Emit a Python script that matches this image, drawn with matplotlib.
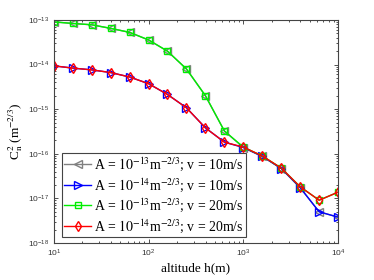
import matplotlib
matplotlib.use("Agg")
import matplotlib.pyplot as plt
import numpy as np
from matplotlib.ticker import LogLocator, NullFormatter

plt.rcParams["font.family"] = ["Liberation Sans", "DejaVu Sans"]
plt.rcParams["mathtext.fontset"] = "stix"

# altitude samples (m)
altitude = [10, 15.8, 25.1, 39.8, 63.1, 100, 158, 251, 398, 631,
            1000, 1585, 2512, 3981, 6310, 10000]

# log10 of Cn^2
log_a13_v20 = [-13.045, -13.08, -13.11, -13.19, -13.28, -13.45, -13.70, -14.10,
               -14.70, -15.49, -15.85, -16.05, -16.32, -16.74, -17.04, -16.86]
log_a14_v20 = [-14.03, -14.08, -14.12, -14.18, -14.28, -14.43, -14.67, -14.97,
               -15.42, -15.74, -15.85, -16.05, -16.32, -16.74, -17.04, -16.86]
log_a14_v10 = [-14.03, -14.08, -14.12, -14.18, -14.28, -14.43, -14.67, -14.97,
               -15.42, -15.74, -15.86, -16.06, -16.33, -16.76, -17.30, -17.42]
log_a13_v10 = [-13.045, -13.08, -13.11, -13.19, -13.28, -13.45, -13.70, -14.10,
               -14.70, -15.49, -15.86, -16.06, -16.33, -16.76, -17.30, -17.42]

labels = [
    r"A = $10^{-13}$m$^{-2/3}$; v = 10m/s",
    r"A = $10^{-14}$m$^{-2/3}$; v = 10m/s",
    r"A = $10^{-13}$m$^{-2/3}$; v = 20m/s",
    r"A = $10^{-14}$m$^{-2/3}$; v = 20m/s",
]
series = [log_a13_v10, log_a14_v10, log_a13_v20, log_a14_v20]
colors = ["#808080", "#0000ff", "#00ee00", "#ff0000"]
markers = ["<", ">", "s", "d"]
msizes = [5.5, 5.5, 4.5, 5.5]

fig = plt.figure(figsize=(3.74, 2.80), dpi=100)
ax = fig.add_axes([0.144, 0.132, 0.76, 0.797])

for vals, c, m, ms, lab in zip(series, colors, markers, msizes, labels):
    ax.plot(altitude, 10 ** np.array(vals), color=c, marker=m, ms=ms,
            mfc="none", mec=c, mew=1.0, lw=1.0, label=lab)

ax.set_xscale("log")
ax.set_yscale("log")
ax.set_xlim(10, 1e4)
ax.set_ylim(1e-18, 1e-13)
ax.xaxis.set_minor_locator(LogLocator(base=10, subs=np.arange(2, 10), numticks=20))
ax.yaxis.set_minor_locator(LogLocator(base=10, subs=np.arange(2, 10), numticks=20))
ax.xaxis.set_minor_formatter(NullFormatter())
ax.yaxis.set_minor_formatter(NullFormatter())
ax.tick_params(which="both", direction="in", top=True, right=True,
               labelsize=6, colors="#333333", width=0.6)
ax.tick_params(which="major", length=3)
ax.tick_params(which="minor", length=1.6)
for s in ax.spines.values():
    s.set_color("#444444")
    s.set_linewidth(0.8)

ax.set_xlabel("altitude h(m)", family="Liberation Serif", fontsize=9.5, labelpad=2)
ax.set_ylabel(r"C$_\mathrm{n}^2$ (m$^{-2/3}$)", family="Liberation Serif",
              fontsize=9.5, labelpad=2)

leg = ax.legend(loc="lower left", bbox_to_anchor=(0.028, 0.027), borderaxespad=0,
                prop={"family": "Liberation Serif", "size": 9.9},
                fancybox=False, framealpha=1, edgecolor="#444444",
                handlelength=2.0, handletextpad=0.2, labelspacing=0.22,
                borderpad=0.15)
leg.get_frame().set_linewidth(0.8)

fig.savefig("out.png", dpi=100)
